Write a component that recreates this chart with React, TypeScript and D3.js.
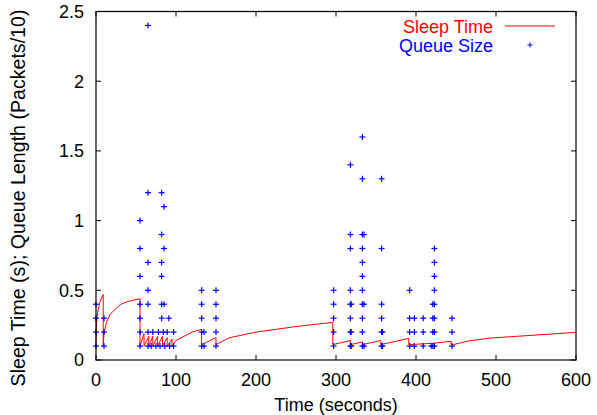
import React from "react";
import * as d3 from "d3";

// Sleep time line (seconds)
const sleepT = [0, 0.5, 2, 5, 9, 9, 10, 13, 18, 25, 31, 40, 55, 55, 60, 60, 66, 66, 71, 71, 77, 77, 83, 83, 89, 89, 95, 95, 100, 110, 120, 132, 132, 150, 150, 160, 167, 200, 250, 296, 296, 318, 318, 333, 333, 356, 356, 391, 391, 421, 444, 444, 467, 492, 600];
const sleepS = [0.1, 0.25, 0.34, 0.42, 0.47, 0.1, 0.19, 0.27, 0.33, 0.37, 0.4, 0.42, 0.44, 0.1, 0.19, 0.1, 0.17, 0.1, 0.17, 0.1, 0.17, 0.1, 0.17, 0.1, 0.16, 0.1, 0.15, 0.1, 0.14, 0.17, 0.2, 0.22, 0.11, 0.16, 0.11, 0.14, 0.16, 0.2, 0.24, 0.27, 0.11, 0.14, 0.11, 0.13, 0.11, 0.14, 0.11, 0.155, 0.11, 0.12, 0.134, 0.107, 0.138, 0.157, 0.198];

// Queue size samples (packets/10)
const queueTimes = [0, 10, 55, 65, 69, 71, 75, 78, 80, 82, 84, 85, 86, 89, 91, 92, 97, 132, 135, 150, 297, 318, 319, 333, 335, 357, 358, 392, 398, 409, 419, 421, 423, 445];
const queueLevels = [
  [0.1, 0.2, 0.3, 0.4],
  [0.1, 0.2, 0.3],
  [0.1, 0.2, 0.3, 0.4, 0.6, 0.8, 1.0],
  [0.1, 0.2, 0.4, 0.5, 0.7, 1.2, 2.4],
  [0.1],
  [0.2],
  [0.1],
  [0.2],
  [0.1],
  [0.3, 0.4, 0.6, 0.7, 0.9, 1.2],
  [0.2],
  [0.4, 0.8, 1.1],
  [0.1],
  [0.2],
  [0.3],
  [0.1],
  [0.1, 0.2],
  [0.1, 0.2, 0.3, 0.4, 0.5],
  [0.1, 0.2],
  [0.1, 0.2, 0.3, 0.4, 0.5],
  [0.1, 0.2, 0.3, 0.4, 0.5],
  [0.1, 0.2, 0.3, 0.4, 0.5, 0.8, 0.9, 1.4],
  [0.1, 0.2, 0.4],
  [0.1, 0.2, 0.3, 0.4, 0.5, 0.6, 0.7, 0.8, 0.9, 1.3, 1.6],
  [0.1, 0.4, 0.9],
  [0.1, 0.2, 0.3, 0.4, 0.8, 1.3],
  [0.1, 0.2],
  [0.1, 0.2, 0.3, 0.5],
  [0.1, 0.2, 0.3],
  [0.1, 0.2, 0.3],
  [0.1],
  [0.1, 0.2, 0.3, 0.4],
  [0.1, 0.2, 0.3, 0.4, 0.5, 0.6, 0.7, 0.8],
  [0.1, 0.2, 0.3],
];

const xTicks = [0, 100, 200, 300, 400, 500, 600];
const yTicks = [0, 0.5, 1, 1.5, 2, 2.5];
const yTickLabels = ["0", "0.5", "1", "1.5", "2", "2.5"];

const W = 597;
const H = 415;
const left = 96, right = 576, top = 11.5, bottom = 360;
const FONT = "'Liberation Sans', Arial, Helvetica, sans-serif";

export default function App() {
  const x = d3.scaleLinear().domain([0, 600]).range([left, right]);
  const y = d3.scaleLinear().domain([0, 2.5]).range([bottom, top]);

  const sleepPts: [number, number][] = sleepT.map((t, i) => [t, sleepS[i]]);
  const line = d3.line<[number, number]>().x((d) => x(d[0])).y((d) => y(d[1]));

  const qPts: [number, number][] = [];
  queueTimes.forEach((t, i) => queueLevels[i].forEach((q) => qPts.push([t, q])));

  const tickLen = 5;
  const ps = 3;

  return (
    <svg width={W} height={H} style={{ position: "absolute", left: 0, top: 0, background: "#fff" }} fontFamily={FONT}>
      <rect x={0} y={0} width={W} height={H} fill="#fff" />
      {/* ticks */}
      {xTicks.map((t) => (
        <g key={"xt" + t} stroke="#000" strokeWidth={1}>
          <line x1={x(t)} x2={x(t)} y1={bottom} y2={bottom - tickLen} />
          <line x1={x(t)} x2={x(t)} y1={top} y2={top + tickLen} />
        </g>
      ))}
      {yTicks.map((v) => (
        <g key={"yt" + v} stroke="#000" strokeWidth={1}>
          <line x1={left} x2={left + tickLen} y1={y(v)} y2={y(v)} />
          <line x1={right} x2={right - tickLen} y1={y(v)} y2={y(v)} />
        </g>
      ))}
      {/* sleep time */}
      <path d={line(sleepPts) || ""} fill="none" stroke="#ff0000" strokeWidth={1} />
      {/* queue size */}
      <g stroke="#0000ff" strokeWidth={1.2}>
        {qPts.map((d, i) => (
          <g key={"q" + i}>
            <line x1={x(d[0]) - ps} x2={x(d[0]) + ps} y1={y(d[1])} y2={y(d[1])} />
            <line x1={x(d[0])} x2={x(d[0])} y1={y(d[1]) - ps} y2={y(d[1]) + ps} />
          </g>
        ))}
      </g>
      {/* frame */}
      <rect x={left} y={top} width={right - left} height={bottom - top} fill="none" stroke="#000" strokeWidth={1.2} />
      {/* tick labels */}
      {xTicks.map((t) => (
        <text key={"xl" + t} x={x(t)} y={386} textAnchor="middle" fontSize={18} fill="#000">
          {t}
        </text>
      ))}
      {yTicks.map((v, i) => (
        <text key={"yl" + v} x={84} y={y(v)} dy="0.35em" textAnchor="end" fontSize={18} fill="#000">
          {yTickLabels[i]}
        </text>
      ))}
      <text x={(left + right) / 2} y={411} textAnchor="middle" fontSize={18} fill="#000">
        Time (seconds)
      </text>
      <text
        transform={`translate(25,198) rotate(-90)`}
        textAnchor="middle"
        fontSize={19.6}
        fill="#000"
      >
        Sleep Time (s); Queue Length (Packets/10)
      </text>
      {/* legend */}
      <text x={493} y={33} textAnchor="end" fontSize={18} fill="#ff0000">
        Sleep Time
      </text>
      <line x1={505} x2={555} y1={26} y2={26} stroke="#ff0000" strokeWidth={1} />
      <text x={493} y={52} textAnchor="end" fontSize={18} fill="#0000ff">
        Queue Size
      </text>
      <g stroke="#0000ff" strokeWidth={1}>
        <line x1={527.5} x2={532.5} y1={45} y2={45} />
        <line x1={530} x2={530} y1={42.5} y2={47.5} />
      </g>
    </svg>
  );
}
